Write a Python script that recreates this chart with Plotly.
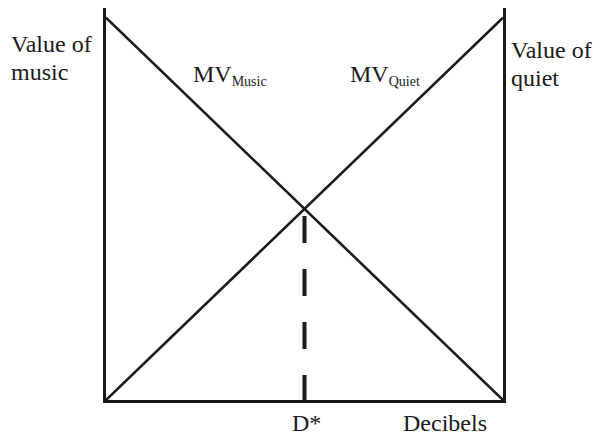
import plotly.graph_objects as go

# ---- data ----
decibels = [0, 100]            # horizontal extent of the diagram
mv_music = [98, 0]             # marginal value of music, falls with decibels
mv_quiet = [0, 98]             # marginal value of quiet, rises with decibels
d_star = 50                    # optimal decibel level
d_star_value = 49              # height of the crossing
dashed_y = [d_star_value, 0]

# ---- layout geometry (window pixels; page body has an 8px margin) ----
OFF = 8
W, H = 602 - OFF, 439 - OFF
X0, X1 = 106, 503      # plot area left/right in window px
Y0, Y1 = 8, 400        # plot area top/bottom in window px
L, R = X0 - OFF, W - (X1 - OFF)
T, B = Y0 - OFF, (H + OFF) - Y1
XR = [0, 100]
YR = [0, 100 * (Y1 - 6) / (Y1 - Y0)]

def px2paper(xpx, ypx):
    return (xpx - X0) / (X1 - X0), (Y1 - ypx) / (Y1 - Y0)

INK = "#1a1a1a"
FONT = "Liberation Serif"

fig = go.Figure()
fig.add_trace(go.Scatter(x=decibels, y=mv_music, mode="lines",
                         line=dict(color=INK, width=2.6), hoverinfo="skip"))
fig.add_trace(go.Scatter(x=decibels, y=mv_quiet, mode="lines",
                         line=dict(color=INK, width=2.6), hoverinfo="skip"))
fig.add_trace(go.Scatter(x=[d_star, d_star], y=dashed_y, mode="lines",
                         line=dict(color=INK, width=4, dash="0px,7px,27px,19px"),
                         hoverinfo="skip"))

def label(text, xpx, ypx, size=24, xanchor="left"):
    px, py = px2paper(xpx, ypx)
    fig.add_annotation(x=px, y=py, xref="paper", yref="paper", text=text,
                       showarrow=False, xanchor=xanchor, yanchor="middle",
                       font=dict(family=FONT, size=size, color=INK))

label("Value of", 9, 44)
label("music", 9, 72)
label("Value of", 509, 50)
label("quiet", 509, 78)
label("MV<span style='font-size:20px'><sub>Music</sub></span>", 191, 75)
label("MV<span style='font-size:20px'><sub>Quiet</sub></span>", 348, 75)
label("D*", 306, 423, xanchor="center")
label("Decibels", 401, 423)

fig.update_xaxes(range=XR, showgrid=False, zeroline=False, showticklabels=False,
                 ticks="", showline=True, linecolor=INK, linewidth=3, fixedrange=True)
fig.update_yaxes(range=YR, showgrid=False, zeroline=False, showticklabels=False,
                 ticks="", showline=True, mirror=True, linecolor=INK, linewidth=3,
                 fixedrange=True)
fig.update_layout(width=W, height=H, margin=dict(l=L, r=R, t=T, b=B, pad=0),
                  paper_bgcolor="white", plot_bgcolor="white", showlegend=False,
                  font=dict(family=FONT))
fig.write_html("out.html")
